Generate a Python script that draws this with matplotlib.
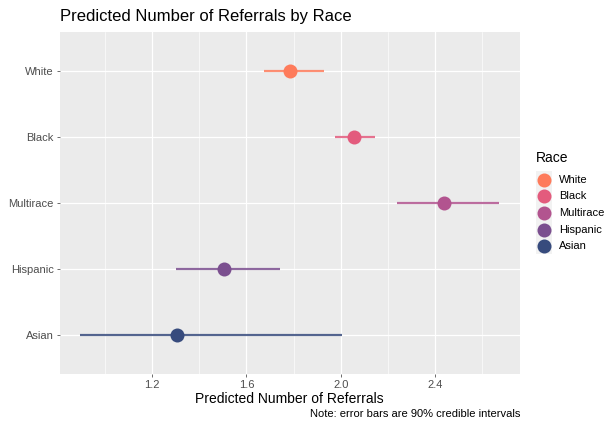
import matplotlib
matplotlib.use("Agg")
import matplotlib.pyplot as plt
import numpy as np
from matplotlib.patches import Rectangle

plt.rcParams['font.family'] = ['Liberation Sans', 'DejaVu Sans']

races = ["White", "Black", "Multirace", "Hispanic", "Asian"]
estimate = [1.787, 2.056, 2.440, 1.505, 1.305]
lower = [1.673, 1.974, 2.241, 1.300, 0.896]
upper = [1.931, 2.145, 2.672, 1.743, 2.006]
colors = ["#FE7B5B", "#E35B7D", "#B2548F", "#7B4F8F", "#374B7D"]
xticks = [1.2, 1.6, 2.0, 2.4]
xminor = [1.0, 1.4, 1.8, 2.2, 2.6]

W, H = 607, 422
DPI = 72
fig = plt.figure(figsize=(W / DPI, H / DPI), dpi=DPI)

def fx(px):
    return px / W

def fy(py):
    return 1 - py / H

S = 1.26
pl, pr, pt, pb = 59.5, 520, 32, 374
ax = fig.add_axes([fx(pl), fy(pb), fx(pr) - fx(pl), fy(pt) - fy(pb)])
ax.set_facecolor("#EBEBEB")
for s in ax.spines.values():
    s.set_visible(False)

n = len(races)
ypos = np.arange(n)[::-1]

# grid
for v in xminor:
    ax.axvline(v, color="white", lw=0.6, zorder=0)
for v in xticks:
    ax.axvline(v, color="white", lw=1.2, zorder=0)
for y in ypos:
    ax.axhline(y, color="white", lw=1.2, zorder=0)

for i in range(n):
    ax.plot([lower[i], upper[i]], [ypos[i], ypos[i]], color=colors[i], lw=2.2,
            alpha=0.85, solid_capstyle='butt', zorder=2)
    ax.plot([estimate[i]], [ypos[i]], 'o', color=colors[i], markersize=14,
            markeredgewidth=0, zorder=3)

lo = min(lower); hi = max(upper)
rng = hi - lo
ax.set_xlim(lo - 0.05 * rng, hi + 0.05 * rng)
ax.set_ylim(-0.6, n - 1 + 0.6)
ax.set_xticks(xticks)
ax.set_xticklabels([f"{v:.1f}" for v in xticks])
ax.set_yticks(ypos)
ax.set_yticklabels(races)
ax.tick_params(axis='both', length=3.4, width=0.7, color="#333333",
               labelcolor="#4D4D4D", labelsize=8.8 * S, pad=2.5)
ax.set_xlabel("Predicted Number of Referrals", fontsize=11 * S, color="black", labelpad=2)

fig.text(fx(60), fy(17), "Predicted Number of Referrals by Race", fontsize=13.2 * S,
         ha='left', va='center', color='black')
fig.text(fx(520), fy(414), "Note: error bars are 90% credible intervals", fontsize=8.8 * S,
         ha='right', va='center', color='black')

# legend
fig.text(fx(535.5), fy(158), "Race", fontsize=11 * S, ha='left', va='center', color='black')
key = 16.6
ky0 = 171.4
kx = 535.7
for i in range(n):
    top = ky0 + i * key
    r = Rectangle((fx(kx), fy(top + key)), fx(key), fy(top) - fy(top + key),
                  transform=fig.transFigure, facecolor="#F2F2F2", edgecolor='none')
    fig.patches.append(r)
    fig.lines.append(plt.Line2D([fx(kx + key / 2)], [fy(top + key / 2)],
                                marker='o', markersize=14, color=colors[i],
                                markeredgewidth=0, transform=fig.transFigure))
    fig.text(fx(559), fy(top + key / 2), races[i], fontsize=8.8 * S, ha='left',
             va='center', color='black')

fig.savefig("out.png", dpi=DPI, facecolor='white')
